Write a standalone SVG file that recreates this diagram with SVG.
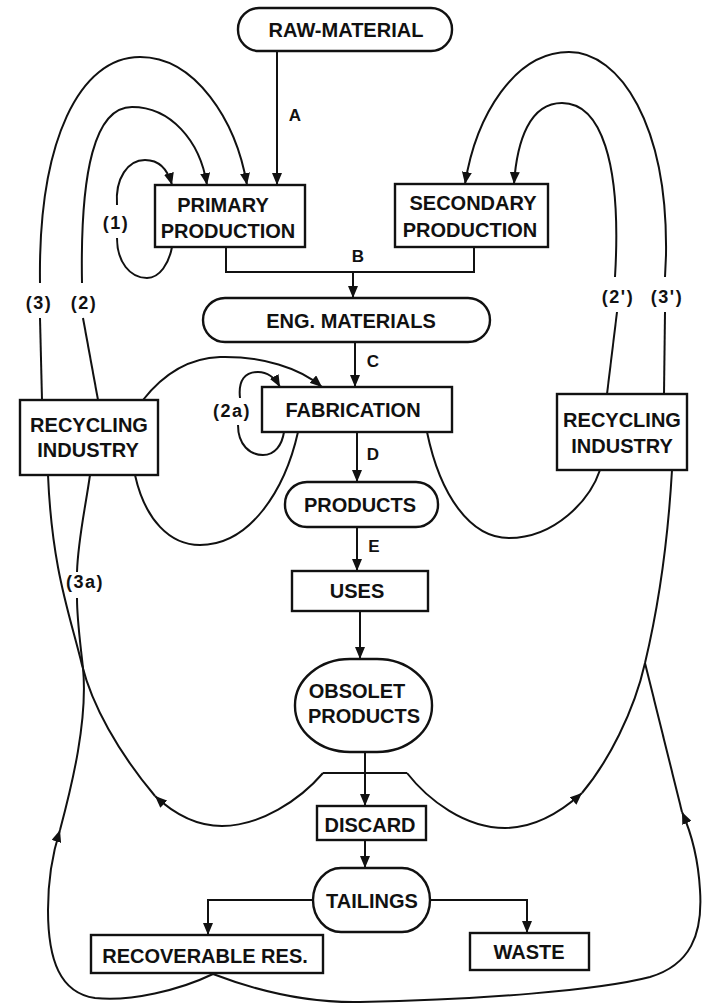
<svg xmlns="http://www.w3.org/2000/svg" width="704" height="1004" viewBox="0 0 704 1004">
<style>
.box{fill:none;stroke:#111;stroke-width:2.4}
.t{font-family:"Liberation Sans",Arial,sans-serif;font-weight:bold;font-size:20px;fill:#111;text-anchor:middle}
.l{font-family:"Liberation Sans",Arial,sans-serif;font-weight:bold;font-size:17px;fill:#111;text-anchor:middle}
.p{font-family:"Liberation Sans",Arial,sans-serif;font-weight:bold;font-size:18px;fill:#111;text-anchor:middle;letter-spacing:1.5px}
.c{fill:none;stroke:#111;stroke-width:2}
.a{marker-end:url(#ah)}
</style>
<defs>
<marker id="ah" markerWidth="13" markerHeight="10" refX="12" refY="5" orient="auto" markerUnits="userSpaceOnUse">
<path d="M0,0 L12,5 L0,10 Z" fill="#111"/>
</marker>
</defs>
<rect width="704" height="1004" fill="#fff"/>

<g id="connectors">
<!-- main flow -->
<path class="c a" d="M277,51 L277,185"/>
<path class="c" d="M226,247 L226,272 L474,272 L474,247"/>
<path class="c a" d="M353,272 L353,298"/>
<path class="c a" d="M355,342 L355,387"/>
<path class="c a" d="M357,432 L357,482"/>
<path class="c a" d="M357,527 L357,571"/>
<path class="c a" d="M360,611 L360,659"/>
<path class="c a" d="M365,752 L365,806"/>
<path class="c a" d="M365,840 L365,868"/>
<path class="c a" d="M313,900 L208,900 L208,935"/>
<path class="c a" d="M430,900 L527,900 L527,933"/>
<!-- left top arcs -->
<path class="c a" d="M40,283 C38,140 80,57 140,57 C195,57 236,120 247,185"/>
<path class="c" d="M40,318 L42,400"/>
<path class="c a" d="M82,283 C80,170 95,107 132,107 C170,107 200,140 207,185"/>
<path class="c" d="M83,318 L98,400"/>
<path class="c a" d="M117,205 C115,178 128,160 145,160 C160,160 168,170 172,185"/>
<path class="c" d="M117,238 C117,262 130,278 147,278 C160,278 169,263 172,247"/>
<!-- right top arcs -->
<path class="c a" d="M665,277 L666,255 C668,125 620,52 569,52 C515,52 476,115 465,184"/>
<path class="c" d="M665,312 L664,394"/>
<path class="c a" d="M615,277 C622,160 600,103 562,103 C530,103 517,140 514,184"/>
<path class="c" d="M617,312 L607,394"/>
<!-- fabrication loops -->
<path class="c a" d="M143,400 C165,372 190,358 220,357 C262,356 300,368 322,387"/>
<path class="c" d="M135,475 C145,520 170,545 200,545 C250,545 285,490 298,432"/>
<path class="c" d="M427,432 C440,495 470,538 509,538 C555,538 590,500 600,470"/>
<path class="c a" d="M240,398 C238,380 245,372 258,372 C268,372 275,378 280,387"/>
<path class="c" d="M238,425 C238,445 250,455 263,455 C275,455 282,445 284,432"/>
<!-- discard hat -->
<path class="c" d="M323,773 L407,773"/>
<path class="c a" d="M323,773 C300,800 260,826 222,826 C195,826 172,812 155,796"/>
<path class="c" d="M155,796 C118,752 92,705 82,665 C70,615 52,570 48,475"/>
<path class="c a" d="M407,773 C428,800 465,828 505,828 C537,828 563,810 582,793"/>
<path class="c" d="M582,793 C608,762 634,712 645,663"/>
<path class="c" d="M645,663 C660,600 668,540 672,470"/>
<!-- (3a) line -->
<path class="c" d="M90,475 C85,510 78,540 77,572"/>
<path class="c" d="M60,830 C72,785 88,720 83,668 C80,640 77,620 77,598"/>
<path class="c a" d="M213,974 C180,990 130,1002 95,998 C60,993 48,960 48,910 C48,880 52,855 60,830"/>
<!-- bottom right loop -->
<path class="c a" d="M213,974 C260,992 310,1003 360,1002 C480,1000 600,990 650,977 C690,965 703,935 700,890 C698,855 690,830 682,812"/>
<path class="c" d="M682,812 C672,770 655,705 645,663"/>
<!-- labels -->
<text class="l" x="295" y="121">A</text>
<text class="l" x="358" y="262">B</text>
<text class="l" x="373" y="367">C</text>
<text class="l" x="373" y="460">D</text>
<text class="l" x="374" y="552">E</text>
<text class="p" x="116" y="229">(1)</text>
<text class="p" x="39" y="309">(3)</text>
<text class="p" x="84" y="309">(2)</text>
<text class="p" x="618" y="303">(2')</text>
<text class="p" x="667" y="303">(3')</text>
<text class="p" x="232" y="417">(2a)</text>
<text class="p" x="85" y="588">(3a)</text>
</g>

<g id="raw-material">
<rect class="box" x="238" y="8" width="214" height="43" rx="21" ry="21"/>
<text class="t" x="346" y="37">RAW-MATERIAL</text>
</g>
<g id="primary-production">
<rect class="box" x="155" y="185" width="150" height="62"/>
<text class="t" x="223" y="212">PRIMARY</text>
<text class="t" x="228" y="238">PRODUCTION</text>
</g>
<g id="secondary-production">
<rect class="box" x="395" y="184" width="153" height="63"/>
<text class="t" x="473" y="210">SECONDARY</text>
<text class="t" x="470" y="237">PRODUCTION</text>
</g>
<g id="eng-materials">
<rect class="box" x="203" y="298" width="287" height="44" rx="22" ry="22"/>
<text class="t" x="351" y="328">ENG. MATERIALS</text>
</g>
<g id="fabrication">
<rect class="box" x="262" y="387" width="190" height="45"/>
<text class="t" x="353" y="417">FABRICATION</text>
</g>
<g id="products">
<rect class="box" x="285" y="482" width="153" height="45" rx="22" ry="22"/>
<text class="t" x="360" y="512">PRODUCTS</text>
</g>
<g id="uses">
<rect class="box" x="292" y="571" width="136" height="40"/>
<text class="t" x="357" y="598">USES</text>
</g>
<g id="obsolet-products">
<rect class="box" x="295" y="659" width="137" height="93" rx="55" ry="46"/>
<text class="t" x="357" y="698">OBSOLET</text>
<text class="t" x="364" y="723">PRODUCTS</text>
</g>
<g id="discard">
<rect class="box" x="317" y="806" width="109" height="34"/>
<text class="t" x="370" y="832">DISCARD</text>
</g>
<g id="tailings">
<rect class="box" x="313" y="868" width="117" height="64" rx="28" ry="32"/>
<text class="t" x="372" y="908">TAILINGS</text>
</g>
<g id="recoverable-res">
<rect class="box" x="91" y="935" width="232" height="38"/>
<text class="t" x="205" y="963">RECOVERABLE RES.</text>
</g>
<g id="waste">
<rect class="box" x="470" y="933" width="119" height="37"/>
<text class="t" x="529" y="959">WASTE</text>
</g>
<g id="recycling-left">
<rect class="box" x="20" y="400" width="138" height="75"/>
<text class="t" x="89" y="432">RECYCLING</text>
<text class="t" x="88" y="457">INDUSTRY</text>
</g>
<g id="recycling-right">
<rect class="box" x="557" y="394" width="130" height="76"/>
<text class="t" x="622" y="427">RECYCLING</text>
<text class="t" x="622" y="453">INDUSTRY</text>
</g>
</svg>
